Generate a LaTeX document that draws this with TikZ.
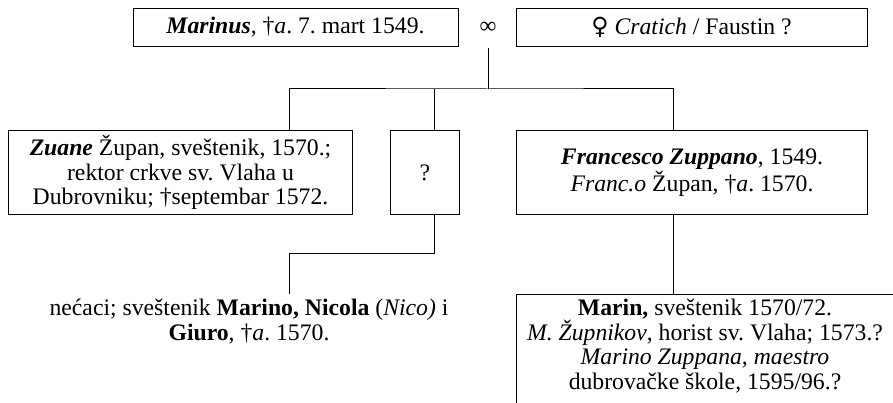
\documentclass[tikz,border=0pt]{standalone}
\usepackage{fontspec}
\setmainfont{Liberation Serif}
\newfontfamily\symfont{DejaVu Serif}
\usetikzlibrary{positioning}
\frenchspacing

\begin{document}
\begin{tikzpicture}[x=1pt,y=-1pt,
    box/.style={draw,line width=1pt,align=center,inner xsep=0pt,inner ysep=4pt,font=\fontsize{23.7}{24.5}\selectfont},
    txt/.style={align=center,inner xsep=0pt,inner ysep=5pt,font=\fontsize{23.7}{25}\selectfont},
    link/.style={line width=1pt}]
  \useasboundingbox (0,0) rectangle (893,403);
  \clip (0,0) rectangle (893,403);
  % parents
  \node[box,minimum width=325pt,minimum height=38pt] (marinus) at (295.5,27.5) {\textbf{\textit{Marinus}}, †\textit{a}. 7. mart 1549.};
  \node[txt,minimum height=40pt] (inf) at (488,28) {∞};
  \node[box,minimum width=351pt,minimum height=38pt] (spouse) at (691.5,27.5) {{\symfont ♀} \textit{Cratich} / Faustin ?};
  % children
  \node[box,anchor=north west,minimum width=344pt,minimum height=84pt] (zuane) at (8,130)
    {\textbf{\textit{Zuane}} Župan, sveštenik, 1570.;\\ rektor crkve sv. Vlaha u\\ Dubrovniku; †septembar 1572.};
  \node[box,minimum width=69pt,minimum height=84pt,right=37pt of zuane] (unk) {?};
  \node[box,minimum width=351pt,minimum height=84pt,right=56pt of unk] (francesco)
    {\textbf{\textit{Francesco Zuppano}}, 1549.\\ \textit{Franc.o} Župan, †\textit{a}. 1570.};
  % grandchildren
  \node[txt,anchor=north] (nephews) at (249,294)
    {nećaci; sveštenik \textbf{Marino, Nicola} (\textit{Nico)} i\\ \textbf{Giuro}, †\textit{a}. 1570.};
  \node[box,inner ysep=5pt,minimum width=378pt,anchor=north] (marin) at (705,294)
    {\textbf{Marin,} sveštenik 1570/72.\\ \textit{M. Župnikov}, horist sv. Vlaha; 1573.?\\
     \textit{Marino Zuppana, maestro}\\ dubrovačke škole, 1595/96.?\\ \rule{0pt}{30pt}};
  % connectors
  \coordinate (bar) at (488,89);
  \coordinate (nbar) at (289,253);
  \draw[link] (inf.south) -- (bar);
  \draw[link] ([xshift=281pt]zuane.north west) |- (bar) -| ([xshift=157pt]francesco.north west);
  \draw[link] ([xshift=44pt]unk.north west) coordinate (ut) -- (ut |- bar);
  \draw[link] ([xshift=44pt]unk.south west) |- (nbar) -- (nbar |- nephews.north);
  \draw[link] ([xshift=157pt]francesco.south west) coordinate (fb) -- (fb |- marin.north);
\end{tikzpicture}
\end{document}
